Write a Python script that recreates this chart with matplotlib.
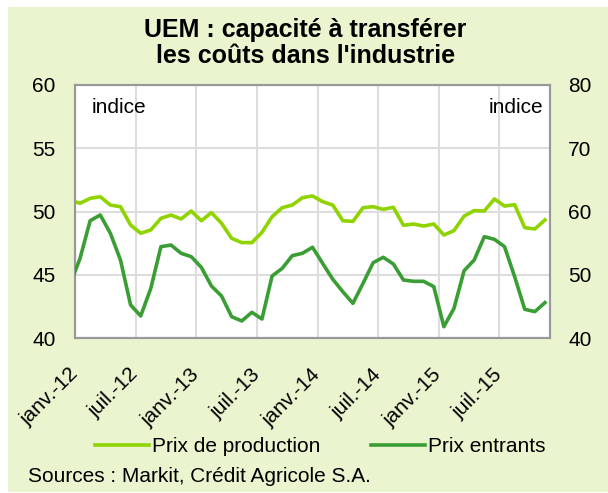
import matplotlib.pyplot as plt
from matplotlib.patches import Rectangle
import matplotlib.transforms as mtransforms

# mois : -1 = déc. 2011 (coupé au bord), 0 = janv. 2012 ... 46 = nov. 2015
prix_production = [50.9, 50.65, 51.04, 51.17, 50.51, 50.38, 48.93, 48.28, 48.54, 49.46,
                   49.72, 49.41, 50.04, 49.27, 49.91, 49.07, 47.88, 47.54, 47.54, 48.35,
                   49.59, 50.30, 50.51, 51.09, 51.23, 50.78, 50.51, 49.27, 49.22, 50.30,
                   50.38, 50.17, 50.33, 48.91, 49.01, 48.85, 49.01, 48.14, 48.49, 49.64,
                   50.07, 50.04, 50.99, 50.43, 50.54, 48.72, 48.62, 49.33]
prix_entrants = [48.4, 52.6, 58.55, 59.45, 56.55, 52.33, 45.22, 43.48, 47.85, 54.44,
                 54.70, 53.39, 52.86, 51.17, 48.22, 46.64, 43.37, 42.69, 44.06, 43.0,
                 49.80, 51.01, 53.02, 53.39, 54.34, 51.81, 49.3, 47.32, 45.48, 48.64,
                 51.91, 52.76, 51.70, 49.17, 48.96, 48.96, 48.12, 41.79, 44.69, 50.64,
                 52.33, 56.02, 55.60, 54.44, 49.70, 44.54, 44.17, 45.59]
mois = [k + 0.5 for k in range(-1, 47)]
tick_pos = [0, 6, 12, 18, 24, 30, 36, 42]
tick_labels = ['janv.-12', 'juil.-12', 'janv.-13', 'juil.-13',
               'janv.-14', 'juil.-14', 'janv.-15', 'juil.-15']

plt.rcParams['font.family'] = ['Liberation Sans', 'DejaVu Sans']

fond = '#EAF5D0'
vert_clair = '#8FD400'
vert_fonce = '#3A9E35'
fs = 15

fig = plt.figure(figsize=(6.08, 4.93), dpi=100)
fig.patch.set_facecolor('white')
# fond vert du cadre
fig.patches.append(Rectangle((8 / 608, 1 / 493), 600 / 608, 485 / 493,
                             transform=fig.transFigure, facecolor=fond,
                             edgecolor='none', zorder=-10))

ax = fig.add_axes([75 / 608, 155 / 493, 475 / 608, 253 / 493])
ax.set_facecolor('white')
ax2 = ax.twinx()

ax.plot(mois, prix_production, color=vert_clair, linewidth=2.6, label='Prix de production',
        solid_joinstyle='round', zorder=3)
ax2.plot(mois, prix_entrants, color=vert_fonce, linewidth=2.6, label='Prix entrants',
         solid_joinstyle='round', zorder=3)

ax.set_xlim(0, 47)
ax.set_ylim(40, 60)
ax2.set_ylim(40, 80)
ax.set_yticks([40, 45, 50, 55, 60])
ax2.set_yticks([40, 50, 60, 70, 80])
ax.set_xticks(tick_pos)
ax.set_xticklabels(tick_labels, rotation=45, ha='right', va='center', rotation_mode='anchor')
# petit décalage vers la droite des dates
decal = mtransforms.ScaledTranslation(11 / 100, 0, fig.dpi_scale_trans)
for lab in ax.get_xticklabels():
    lab.set_transform(lab.get_transform() + decal)

ax.grid(True, color='#DDDDDD', linewidth=1.5)
ax.set_axisbelow(True)
ax.tick_params(axis='both', length=0, labelsize=fs)
ax.tick_params(axis='y', pad=14)
ax.tick_params(axis='x', pad=24)
ax2.tick_params(axis='y', length=0, labelsize=fs, pad=13)

for a in (ax, ax2):
    for s in a.spines.values():
        s.set_color('#999999')
        s.set_linewidth(1.5)

ax.text(0.035, 0.95, 'indice', transform=ax.transAxes, fontsize=fs, ha='left', va='top')
ax.text(0.985, 0.95, 'indice', transform=ax.transAxes, fontsize=fs, ha='right', va='top')

fig.text(0.502, 0.912, "UEM : capacité à transférer\nles coûts dans l'industrie",
         ha='center', va='center', fontsize=18, fontweight='bold', linespacing=1.1)

h1, l1 = ax.get_legend_handles_labels()
h2, l2 = ax2.get_legend_handles_labels()
fig.legend(h1 + h2, l1 + l2, loc='center', bbox_to_anchor=(0.527, 0.094), ncol=2,
           frameon=False, fontsize=fs, handlelength=2.6, handletextpad=0.15,
           columnspacing=2.4)

fig.text(28 / 608, 1 - 476 / 493, 'Sources : Markit, Crédit Agricole S.A.', fontsize=fs,
         ha='left', va='center')

fig.savefig('out.png', dpi=100)
